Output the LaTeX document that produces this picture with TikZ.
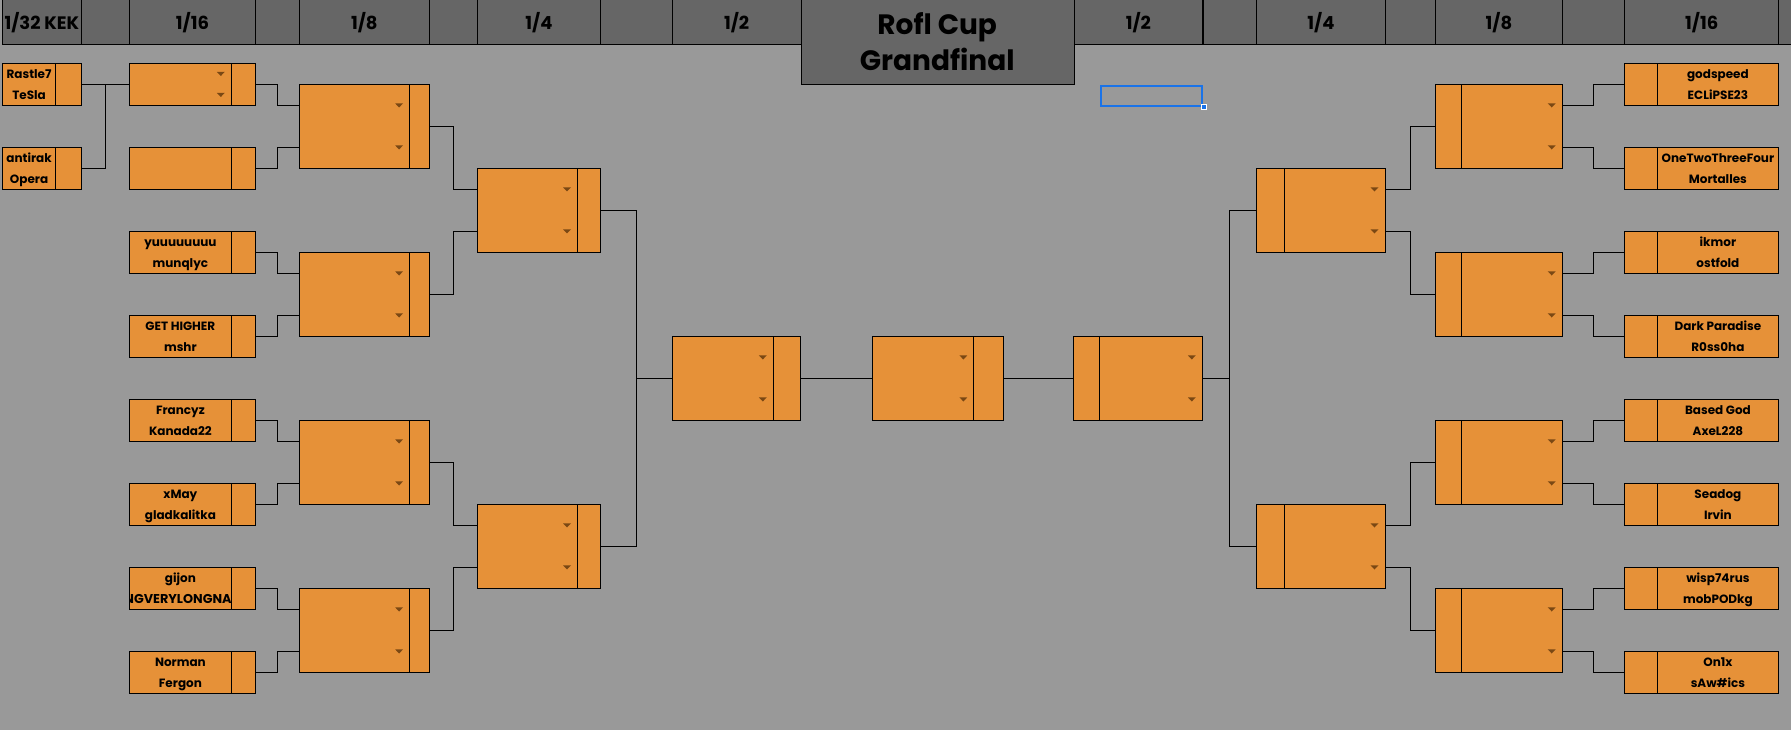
\documentclass[tikz,border=0pt]{standalone}
\usepackage{fontspec}
\setmainfont{Poppins}
\usetikzlibrary{calc}
\definecolor{bg}{HTML}{999999}
\definecolor{hdr}{HTML}{666666}
\definecolor{orng}{HTML}{E69138}
\definecolor{tric}{HTML}{7A4814}
\definecolor{selb}{HTML}{1A73E8}
\tikzset{
 ln/.style={draw=black,line width=1.1pt},
 cell/.style={draw=black,line width=1.1pt,fill=orng,inner sep=0pt,outer sep=0pt,anchor=north west},
 nm/.style={font=\bfseries\fontsize{12}{14}\selectfont,anchor=base,inner sep=0pt},
 hd/.style={font=\bfseries\fontsize{18}{20}\selectfont,anchor=base,inner sep=0pt},
 tt/.style={font=\bfseries\fontsize{28}{30}\selectfont,anchor=base,inner sep=0pt},
 trif/.style={fill=tric},
}
\newcommand\cellbox[6]{\node[cell,minimum width=#4pt,minimum height=#5pt] (#1) at (#2,#3) {};
 \draw[ln] (#6,#3) -- (#6,#3+#5);}
\newcommand\ddtri[2]{\fill[trif] (#1-4,#2-2) -- (#1+4,#2-2) -- (#1,#2+2.2) -- cycle;}
\begin{document}
\begin{tikzpicture}[x=1pt,y=-1pt]
\clip (0,0) rectangle (1791,730);
\fill[bg] (0,0) rectangle (1791,730);
% header band
\node[draw=black,fill=hdr,line width=1.1pt,anchor=north west,minimum width=1800pt,minimum height=49.3pt,inner sep=0pt] (hdrbar) at (2.3,-5) {};
\foreach \xx in {81.5,129.3,255.6,299.2,429.3,477.6,600.7,672.7,1203,1256.5,1385.4,1435.6,1562.6,1624.8,1778.6}
  {\draw[ln] (\xx,0) -- (\xx,44.3);}
\node[hd] (h32) at (41.9,29.3) {1/32 KEK};
\node[hd] (hL16) at (192.5,29.3) {1/16};
\node[hd] (hL8) at (364.3,29.3) {1/8};
\node[hd] (hL4) at (539,29.3) {1/4};
\node[hd] (hL2) at (736.6,29.3) {1/2};
\node[hd] (hR2) at (1138.4,29.3) {1/2};
\node[hd] (hR4) at (1321,29.3) {1/4};
\node[hd] (hR8) at (1499,29.3) {1/8};
\node[hd] (hR16) at (1701.7,29.3) {1/16};
% title
\node[draw=black,fill=hdr,line width=1.1pt,anchor=north west,minimum width=273.3pt,minimum height=89.3pt,inner sep=0pt] (title) at (800.5,-5) {};
\node[tt] (ttA) at (937.2,34.3) {Rofl Cup};
\node[tt] (ttB) at (937.2,70.3) {Grandfinal};
% selection
\node[draw=selb,line width=2pt,anchor=north west,minimum width=101pt,minimum height=20pt,inner sep=0pt] (sel) at (1100.3,85) {};
\node[fill=selb,draw=white,line width=0.6pt,minimum size=5pt,inner sep=0pt] (selh) at (sel.south east) {};
% ---- boxes ----
\cellbox{La32}{2.3}{63.3}{79.2}{42}{55.9}
\cellbox{Lb32}{2.3}{147.3}{79.2}{42}{55.9}
\foreach \i/\yy in {0/63.3,1/147.3,2/231.3,3/315.3,4/399.3,5/483.3,6/567.3,7/651.3}{
  \cellbox{L16-\i}{129.3}{\yy}{126.3}{42}{231.5}
  \cellbox{R16-\i}{1624.6}{\yy}{154}{42}{1657.2}}
\foreach \i/\yy in {0/84.3,1/252.3,2/420.3,3/588.3}{
  \cellbox{L8-\i}{299.2}{\yy}{130.1}{84}{409.4}
  \cellbox{R8-\i}{1435.5}{\yy}{127}{84}{1461.2}
  \ddtri{399.1}{\yy+21}\ddtri{399.1}{\yy+63}
  \ddtri{1551.7}{\yy+21}\ddtri{1551.7}{\yy+63}}
\foreach \i/\yy in {0/168.3,1/504.3}{
  \cellbox{L4-\i}{477.4}{\yy}{123.3}{84}{577.3}
  \cellbox{R4-\i}{1256.4}{\yy}{129.2}{84}{1284.4}
  \ddtri{567}{\yy+21}\ddtri{567}{\yy+63}
  \ddtri{1374.5}{\yy+21}\ddtri{1374.5}{\yy+63}}
\cellbox{L2}{672.5}{336.3}{128.2}{84}{773.6}
\cellbox{F}{872.3}{336.3}{131.3}{84}{973.3}
\cellbox{R2}{1073.6}{336.3}{129}{84}{1099.6}
\ddtri{762.8}{357.3}\ddtri{762.8}{399.3}
\ddtri{963.4}{357.3}\ddtri{963.4}{399.3}
\ddtri{1191.8}{357.3}\ddtri{1191.8}{399.3}
\ddtri{220.8}{73.8}\ddtri{220.8}{94.8}
% ---- junction x coordinates ----
\coordinate (j32) at (105.6,0);
\coordinate (jA) at (277.8,0);
\coordinate (jB) at (453.5,0);
\coordinate (jC) at (636.3,0);
\coordinate (jD) at (1229.3,0);
\coordinate (jE) at (1410.3,0);
\coordinate (jF) at (1593.4,0);
% ---- connectors ----
\draw[ln] (La32.east) -- (L16-0.west);
\draw[ln] (Lb32.east) -- (Lb32.east -| j32) -- (La32.east -| j32);
\foreach \a/\b/\t in {0/1/0,2/3/1,4/5/2,6/7/3}{
  \draw[ln] (L16-\a.east) -- (L16-\a.east -| jA) |- ($(L8-\t.north west)!0.25!(L8-\t.south west)$);
  \draw[ln] (L16-\b.east) -- (L16-\b.east -| jA) |- ($(L8-\t.north west)!0.75!(L8-\t.south west)$);
  \draw[ln] (R16-\a.west) -- (R16-\a.west -| jF) |- ($(R8-\t.north east)!0.25!(R8-\t.south east)$);
  \draw[ln] (R16-\b.west) -- (R16-\b.west -| jF) |- ($(R8-\t.north east)!0.75!(R8-\t.south east)$);}
\foreach \a/\b/\t in {0/1/0,2/3/1}{
  \draw[ln] (L8-\a.east) -- (L8-\a.east -| jB) |- ($(L4-\t.north west)!0.25!(L4-\t.south west)$);
  \draw[ln] (L8-\b.east) -- (L8-\b.east -| jB) |- ($(L4-\t.north west)!0.75!(L4-\t.south west)$);
  \draw[ln] (R8-\a.west) -- (R8-\a.west -| jE) |- ($(R4-\t.north east)!0.25!(R4-\t.south east)$);
  \draw[ln] (R8-\b.west) -- (R8-\b.west -| jE) |- ($(R4-\t.north east)!0.75!(R4-\t.south east)$);}
\draw[ln] (L4-0.east) -- (L4-0.east -| jC) |- (L2.west);
\draw[ln] (L4-1.east) -- (L4-1.east -| jC) |- (L2.west);
\draw[ln] (R4-0.west) -- (R4-0.west -| jD) |- (R2.east);
\draw[ln] (R4-1.west) -- (R4-1.west -| jD) |- (R2.east);
\draw[ln] (L2.east) -- (F.west);
\draw[ln] (F.east) -- (R2.west);
% ---- names ----
\node[nm] (nLa1) at (29.1,78.8) {Rastle7};
\node[nm] (nLa2) at (29.1,99.8) {TeSla};
\node[nm] (nLb1) at (29.1,162.8) {antirak};
\node[nm] (nLb2) at (29.1,183.8) {Opera};
\node[nm] (n2a) at (180.4,246.8) {yuuuuuuuu};
\node[nm] (n2b) at (180.4,267.8) {munqlyc};
\node[nm] (n3a) at (180.4,330.8) {GET HIGHER};
\node[nm] (n3b) at (180.4,351.8) {mshr};
\node[nm] (n4a) at (180.4,414.8) {Francyz};
\node[nm] (n4b) at (180.4,435.8) {Kanada22};
\node[nm] (n5a) at (180.4,498.8) {xMay};
\node[nm] (n5b) at (180.4,519.8) {gladkalitka};
\node[nm] (n6a) at (180.4,582.8) {gijon};
\begin{scope}
\clip (129.9,568) rectangle (230.9,608.7);
\node[nm,anchor=base east,font=\bfseries\fontsize{12.8}{14}\selectfont] (n6b) at (231.8,603.8) {NGVERYLONGNA};
\end{scope}
\node[nm] (n7a) at (180.4,666.8) {Norman};
\node[nm] (n7b) at (180.4,687.8) {Fergon};
\node[nm] (r0a) at (1717.9,78.8) {godspeed};
\node[nm] (r0b) at (1717.9,99.8) {ECLiPSE23};
\node[nm] (r1a) at (1717.9,162.8) {OneTwoThreeFour};
\node[nm] (r1b) at (1717.9,183.8) {Mortalles};
\node[nm] (r2a) at (1717.9,246.8) {ikmor};
\node[nm] (r2b) at (1717.9,267.8) {ostfold};
\node[nm] (r3a) at (1717.9,330.8) {Dark Paradise};
\node[nm] (r3b) at (1717.9,351.8) {R0ss0ha};
\node[nm] (r4a) at (1717.9,414.8) {Based God};
\node[nm] (r4b) at (1717.9,435.8) {AxeL228};
\node[nm] (r5a) at (1717.9,498.8) {Seadog};
\node[nm] (r5b) at (1717.9,519.8) {Irvin};
\node[nm] (r6a) at (1717.9,582.8) {wisp74rus};
\node[nm] (r6b) at (1717.9,603.8) {mobPODkg};
\node[nm] (r7a) at (1717.9,666.8) {On1x};
\node[nm] (r7b) at (1717.9,687.8) {sAw\#ics};
\end{tikzpicture}
\end{document}
